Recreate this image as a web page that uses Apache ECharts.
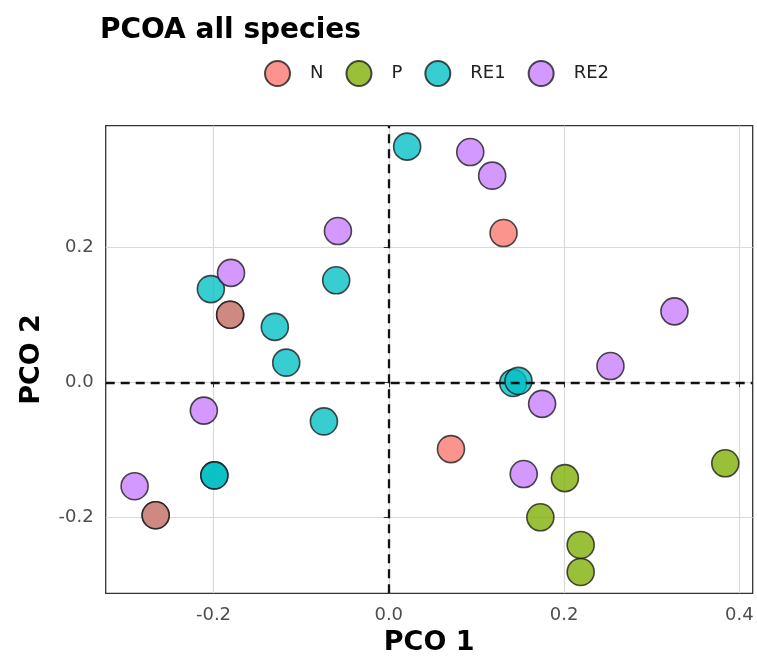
<!DOCTYPE html>
<html>
<head>
<meta charset="utf-8">
<script src="https://cdn.jsdelivr.net/npm/echarts@6/dist/echarts.min.js"></script>
<style>
html,body{margin:0;padding:0;background:#fff;}
#chart{width:757px;height:662px;}
</style>
</head>
<body>
<div id="chart"></div>
<script>
// ---- data ----
var groups = ['N', 'P', 'RE1', 'RE2'];
var N_x   = [0.131, 0.071, -0.181, -0.266];
var N_y   = [0.221, -0.099, 0.100, -0.197];
var P_x   = [0.384, 0.201, 0.173, 0.219, 0.219];
var P_y   = [-0.120, -0.142, -0.200, -0.241, -0.281];
var RE1_x = [0.021, -0.203, -0.130, -0.117, -0.060, -0.074, -0.199, -0.199, 0.142, 0.148, -0.181, -0.266];
var RE1_y = [0.349, 0.138, 0.082, 0.029, 0.151, -0.058, -0.138, -0.138, -0.001, 0.002, 0.100, -0.197];
var RE2_x = [0.093, 0.118, -0.058, -0.180, -0.211, -0.290, 0.326, 0.253, 0.175, 0.154];
var RE2_y = [0.341, 0.306, 0.224, 0.162, -0.042, -0.154, 0.105, 0.024, -0.032, -0.136];
var xTicks = [-0.2, 0.0, 0.2, 0.4];
var yTicks = [-0.2, 0.0, 0.2];
var refLines = [0];

var colors = {N: '#F8766D', P: '#7CAE00', RE1: '#00BFC4', RE2: '#C77CFF'};
var xs = {N: N_x, P: P_x, RE1: RE1_x, RE2: RE2_x};
var ys = {N: N_y, P: P_y, RE1: RE1_y, RE2: RE2_y};

function pairs(a, b) { return a.map(function (v, i) { return [v, b[i]]; }); }

var FONT = 'DejaVu Sans';
var series = groups.map(function (g) {
  return {
    name: g,
    type: 'scatter',
    symbol: 'circle',
    symbolSize: 27,
    z: g === 'N' ? 4 : 3,
    data: pairs(xs[g], ys[g]),
    itemStyle: { color: colors[g], opacity: 0.78, borderColor: '#1a1a1a', borderWidth: 1.6 },
    emphasis: { disabled: true }
  };
});
series.push({
  name: 'ref',
  type: 'scatter',
  data: [],
  z: 2,
  markLine: {
    silent: true,
    symbol: 'none',
    label: { show: false },
    lineStyle: { color: '#111', type: [9, 6], width: 2.3 },
    data: refLines.map(function (v) { return { xAxis: v }; })
      .concat(refLines.map(function (v) { return { yAxis: v }; }))
  }
});

var chart = echarts.init(document.getElementById('chart'), null, { renderer: 'canvas' });
chart.setOption({
  animation: false,
  backgroundColor: '#fff',
  title: {
    text: 'PCOA all species',
    left: 95, top: 12,
    textStyle: { fontFamily: FONT, fontWeight: 'bold', fontSize: 28, color: '#000' }
  },
  legend: {
    data: groups,
    left: 259, top: 55,
    icon: 'circle',
    itemWidth: 25, itemHeight: 25,
    itemGap: 22,
    textStyle: { fontFamily: FONT, fontSize: 18, color: '#222', padding: [0, 0, 0, 15] }
  },
  grid: {
    left: 105.7, right: 4.3, top: 125.7, bottom: 68.7,
    show: true, borderColor: '#333', borderWidth: 1.3, backgroundColor: '#fff'
  },
  xAxis: {
    type: 'value',
    min: -0.323, max: 0.4153,
    splitNumber: 3,
    name: 'PCO 1',
    nameLocation: 'middle',
    nameGap: 36,
    nameTextStyle: { fontFamily: FONT, fontWeight: 'bold', fontSize: 27, color: '#000' },
    axisLine: { show: false },
    axisTick: { show: true, length: 5, lineStyle: { color: '#333' }, customValues: xTicks },
    axisLabel: { fontFamily: FONT, fontSize: 18, color: '#4D4D4D', margin: 13,
      customValues: xTicks, formatter: function (v) { return v.toFixed(1); } },
    splitLine: { show: true, lineStyle: { color: '#D9D9D9', width: 1.2 } }
  },
  yAxis: {
    type: 'value',
    min: -0.3126, max: 0.380,
    splitNumber: 3,
    name: 'PCO 2',
    nameLocation: 'middle',
    nameGap: 60,
    nameRotate: 90,
    nameTextStyle: { fontFamily: FONT, fontWeight: 'bold', fontSize: 27, color: '#000' },
    axisLine: { show: false },
    axisTick: { show: true, length: 5, lineStyle: { color: '#333' }, customValues: yTicks },
    axisLabel: { fontFamily: FONT, fontSize: 18, color: '#4D4D4D', margin: 12,
      customValues: yTicks, formatter: function (v) { return v.toFixed(1); } },
    splitLine: { show: true, lineStyle: { color: '#D9D9D9', width: 1.2 } }
  },
  series: series
});
</script>
</body>
</html>
